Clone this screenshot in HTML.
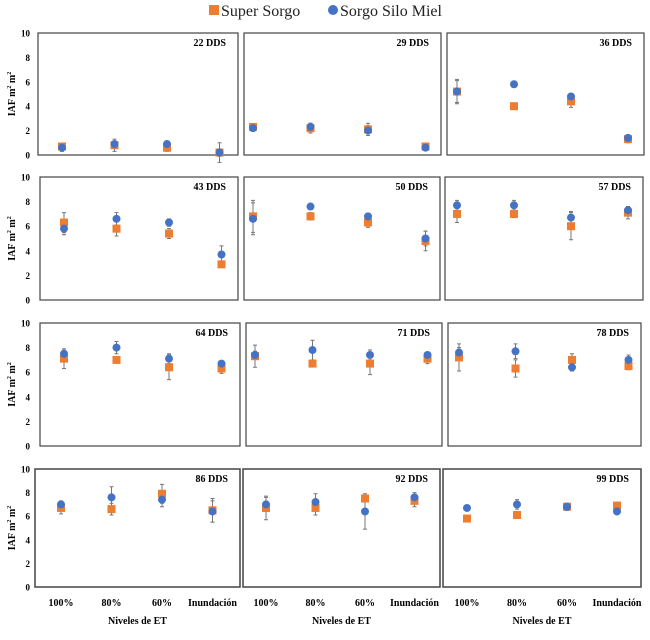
<!DOCTYPE html>
<html><head><meta charset="utf-8"><style>
body{margin:0;background:#fff;}
svg{display:block;font-family:"Liberation Serif",serif;}
</style></head><body>
<svg id="chart" width="650" height="640" viewBox="0 0 650 640">
<g>
<rect x="209" y="5" width="10" height="10" fill="#ED7D31"/>
<text x="221" y="16" font-size="16" fill="#222">Super Sorgo</text>
<circle cx="333" cy="10" r="5" fill="#4472C4"/>
<text x="340" y="16" font-size="16" fill="#222">Sorgo Silo Miel</text>
</g>
</svg>
<script>
const categories = ["100%","80%","60%","Inundación"];
const panelTitles = ["22 DDS","29 DDS","36 DDS","43 DDS","50 DDS","57 DDS","64 DDS","71 DDS","78 DDS","86 DDS","92 DDS","99 DDS"];
const superSorgo = [
 [0.7,0.8,0.6,0.2],[2.3,2.2,2.1,0.7],[5.2,4.0,4.4,1.3],
 [6.3,5.8,5.4,2.9],[6.8,6.8,6.3,4.8],[7.0,7.0,6.0,7.1],
 [7.1,7.0,6.4,6.3],[7.3,6.7,6.7,7.1],[7.2,6.3,7.0,6.5],
 [6.7,6.6,7.9,6.5],[6.7,6.7,7.5,7.3],[5.8,6.1,6.8,6.9]];
const siloMiel = [
 [0.6,0.9,0.9,0.2],[2.2,2.3,2.0,0.6],[5.2,5.8,4.8,1.4],
 [5.8,6.6,6.3,3.7],[6.6,7.6,6.8,5.0],[7.7,7.7,6.7,7.3],
 [7.5,8.0,7.1,6.7],[7.4,7.8,7.4,7.4],[7.6,7.7,6.4,7.0],
 [7.0,7.6,7.4,6.4],[7.0,7.2,6.4,7.6],[6.7,7.0,6.8,6.4]];
const superErr = [
 [0.2,0.5,0.3,0.8],[0.2,0.4,0.5,0.1],[1.0,0.1,0.5,0.3],
 [0.8,0.6,0.4,0.2],[1.3,0.3,0.4,0.8],[0.7,0.3,1.1,0.5],
 [0.8,0.1,1.0,0.4],[0.9,0.2,0.9,0.4],[1.1,0.7,0.5,0.3],
 [0.5,0.5,0.8,1.0],[1.0,0.6,0.3,0.5],[0.2,0.2,0.3,0.2]];
const siloErr = [
 [0.3,0.2,0.2,0.3],[0.2,0.3,0.4,0.1],[0.9,0.1,0.2,0.2],
 [0.5,0.5,0.3,0.7],[1.3,0.2,0.2,0.6],[0.4,0.4,0.5,0.3],
 [0.4,0.5,0.4,0.2],[0.3,0.8,0.4,0.2],[0.4,0.6,0.3,0.4],
 [0.3,0.9,0.6,0.9],[0.6,0.7,1.5,0.4],[0.2,0.4,0.3,0.2]];
const yTicks = [0,2,4,6,8,10];

const svg = document.getElementById('chart');
const NS = 'http://www.w3.org/2000/svg';
function mk(tag, attrs, parent){const e=document.createElementNS(NS,tag);for(const k in attrs)e.setAttribute(k,attrs[k]);parent.appendChild(e);return e;}
// layout: [left,right,top,bottom,catOffset,catStep]
const rowsY=[[33,155],[177,300],[323,446],[469,587]];
const colsX=[[[38,238,24,52.5],[244,441,9,57.5],[447,644,10,57]],
 [[40,238,24,52.5],[244,440,9,57.5],[445,643,12,57]],
 [[40,240,24,52.5],[246,442,9,57.5],[448,641,11,56.5]],
 [[35,240,26,50.5],[243,440,23,49.5],[443,641,24,50]]];
for(let p=0;p<12;p++){
 const r=Math.floor(p/3), c=p%3;
 const [top,bot]=rowsY[r]; const [L,R,off,step]=colsX[r][c];
 const yScale=v=>bot-(v/10)*(bot-top);
 const xScale=i=>L+off+i*step;
 const g=mk('g',{},svg);
 
 
 const fr=mk('rect',{x:L,y:top,width:R-L,height:bot-top,fill:'none',stroke:'#444','stroke-width':r==3?1.5:1.2},g);
 
 
 if(c==0){
  yTicks.forEach(t=>{const tx=mk('text',{x:30,y:yScale(t)+3.5,'font-size':9,'font-weight':'bold','text-anchor':'end'},g);tx.textContent=t;
   
   });
  const yt=mk('text',{x:0,y:0,'font-size':10,'font-weight':'bold','text-anchor':'middle',transform:`translate(15,${(top+bot)/2}) rotate(-90)`},g);
  yt.innerHTML='IAF m<tspan font-size="6" dy="-4">2</tspan><tspan dy="4"> m</tspan><tspan font-size="6" dy="-4">2</tspan>';
  
  
 }
 const tt=mk('text',{x:R-12,y:top+13,'font-size':10,'font-weight':'bold','text-anchor':'end'},g);
 tt.textContent=panelTitles[p];
 
 
 for(let i=0;i<4;i++){
  const x=xScale(i);
  [[superSorgo,superErr],[siloMiel,siloErr]].forEach(([vals,errs])=>{
   const v=vals[p][i], e=errs[p][i];
   const eb=mk('path',{d:`M${x},${yScale(v-e)}V${yScale(v+e)}M${x-2},${yScale(v-e)}H${x+2}M${x-2},${yScale(v+e)}H${x+2}`,stroke:'#777','stroke-width':1,fill:'none'},g);
   
   
  });
  const sq=mk('rect',{x:x-4,y:yScale(superSorgo[p][i])-4,width:8,height:8,fill:'#ED7D31'},g);
  
  
  const ci=mk('circle',{cx:x,cy:yScale(siloMiel[p][i]),r:4,fill:'#4472C4'},g);
  
  
  if(r==3){
   const xl=mk('text',{x:x,y:606,'font-size':10,'font-weight':'bold','text-anchor':'middle'},g);
   xl.textContent=categories[i];
   
   
  }
 }
 if(r==3){
  const xt=mk('text',{x:(L+R)/2,y:624,'font-size':10,'font-weight':'bold','text-anchor':'middle'},g);
  xt.textContent='Niveles de ET';
  
  
 }
}
</script>
</body></html>
